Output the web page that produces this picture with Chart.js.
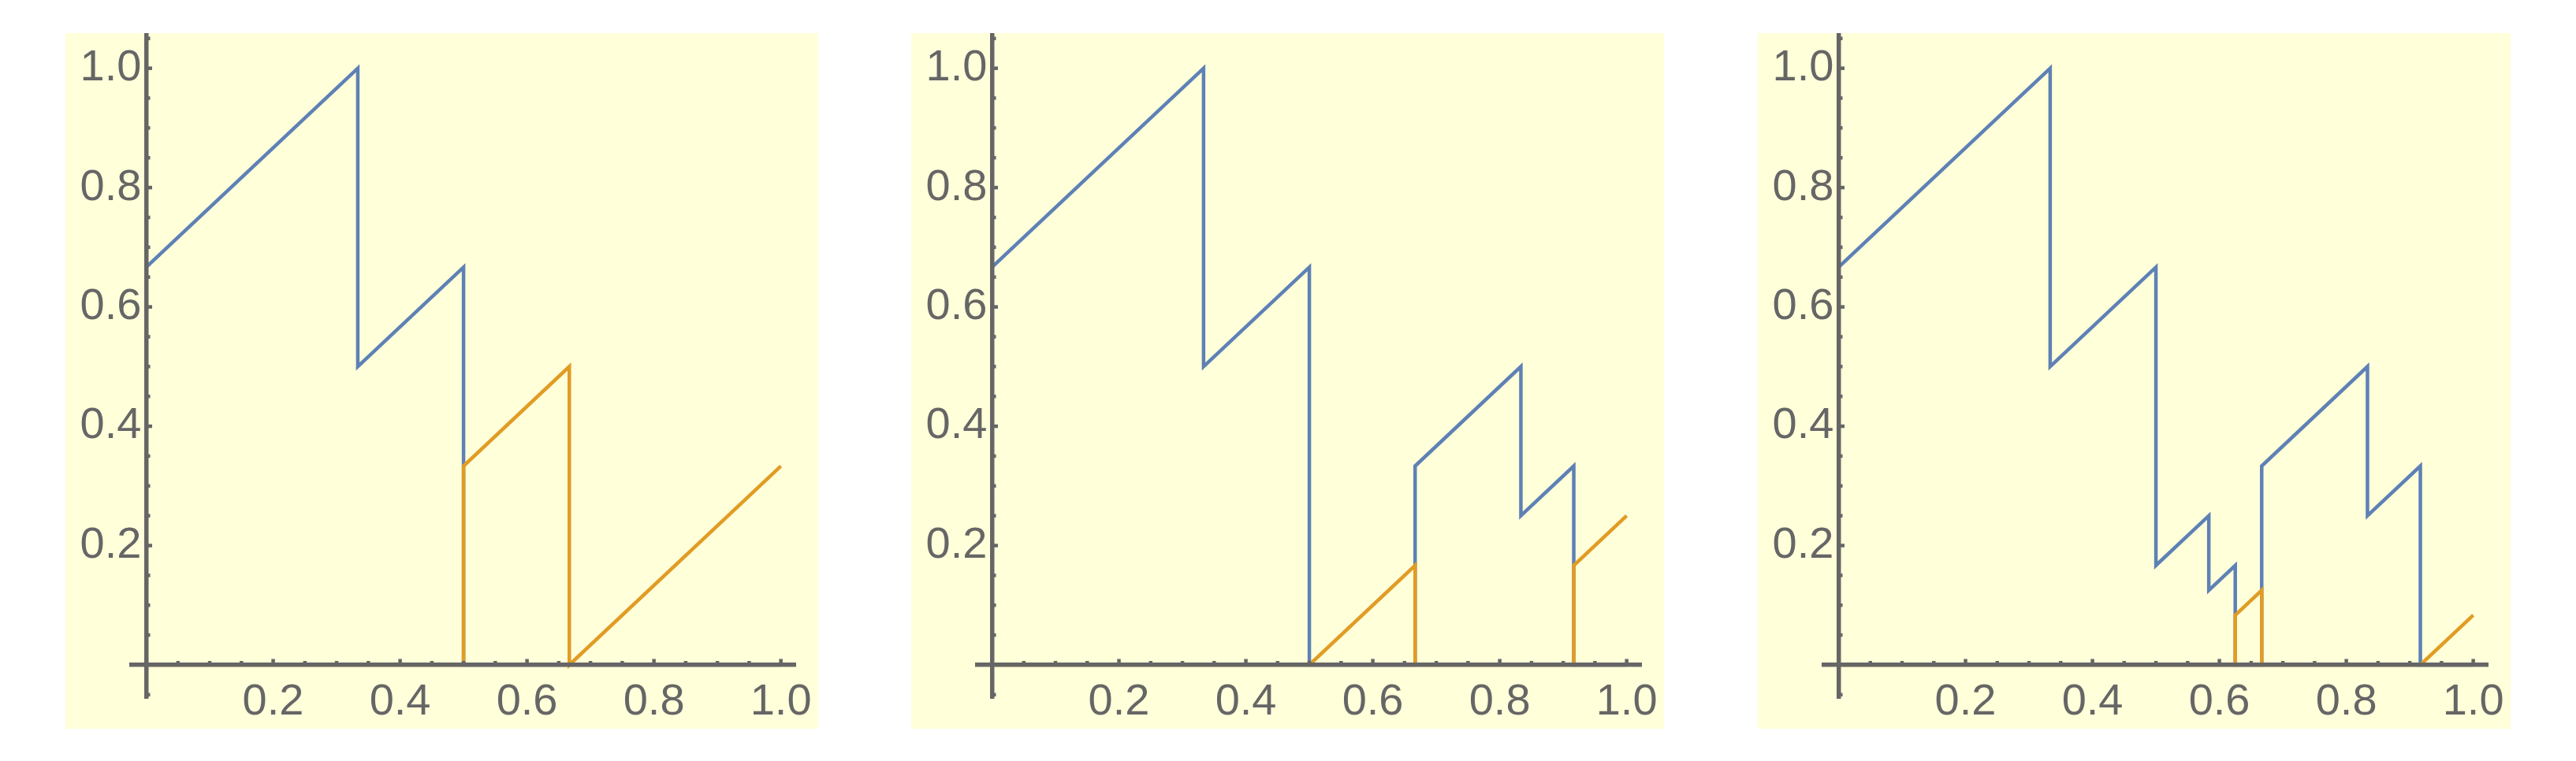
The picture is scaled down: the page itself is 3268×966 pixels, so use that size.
<!DOCTYPE html>
<html>
<head>
  <meta charset="UTF-8" />
  <title>Piecewise plots</title>
  <script src="https://cdn.jsdelivr.net/npm/chart.js"></script>
  <style>
    body {
      margin: 0;
      background: #fff;
      width: 3268px;
      height: 966px;
      position: relative;
      overflow: hidden;
    }
    .panel {
      position: absolute;
      top: 42px;
      width: 955px;
      height: 883px;
      background: #FFFFDA;
    }
    #p1 { left: 83px; }
    #p2 { left: 1156px; }
    #p3 { left: 2230px; }
  </style>
</head>
<body>

  <div class="panel" id="p1"><canvas id="c1"></canvas></div>
  <div class="panel" id="p2"><canvas id="c2"></canvas></div>
  <div class="panel" id="p3"><canvas id="c3"></canvas></div>

  <script>
    // labelled ticks on both axes
    const xTickValues = [0.2, 0.4, 0.6, 0.8, 1.0];
    const yTickValues = [0.2, 0.4, 0.6, 0.8, 1.0];

    // panel 1
    const blueX1 = [0, 1/3, 1/3, 1/2, 1/2, 1];
    const blueY1 = [2/3, 1, 1/2, 2/3, 0, 0];
    const orangeX1 = [0, 1/2, 1/2, 2/3, 2/3, 1];
    const orangeY1 = [0, 0, 1/3, 1/2, 0, 1/3];

    // panel 2
    const blueX2 = [0, 1/3, 1/3, 1/2, 1/2, 2/3, 2/3, 5/6, 5/6, 11/12, 11/12, 1];
    const blueY2 = [2/3, 1, 1/2, 2/3, 0, 0, 1/3, 1/2, 1/4, 1/3, 0, 0];
    const orangeX2 = [0, 1/2, 2/3, 2/3, 11/12, 11/12, 1];
    const orangeY2 = [0, 0, 1/6, 0, 0, 1/6, 1/4];

    // panel 3
    const blueX3 = [0, 1/3, 1/3, 1/2, 1/2, 7/12, 7/12, 5/8, 5/8, 2/3, 2/3, 5/6, 5/6, 11/12, 11/12, 1];
    const blueY3 = [2/3, 1, 1/2, 2/3, 1/6, 1/4, 1/8, 1/6, 0, 0, 1/3, 1/2, 1/4, 1/3, 0, 0];
    const orangeX3 = [0, 5/8, 5/8, 2/3, 2/3, 11/12, 1];
    const orangeY3 = [0, 0, 1/12, 1/8, 0, 0, 1/12];

    const BLUE = '#5E81B5';
    const ORANGE = '#E19C24';
    const AXIS = '#666666';
    const FONT = { family: '"Liberation Sans", Arial, sans-serif', size: 56 };
    const Y_MIN = -0.0555, Y_MAX = 1.055;

    const zip = (xs, ys) => xs.map((x, i) => ({ x: x, y: ys[i] }));

    // axes sit inside the plot, so they should not eat layout space
    const noSpace = axis => {
      if (axis.isHorizontal()) axis.height = 0; else axis.width = 0;
      axis.paddingLeft = axis.paddingRight = axis.paddingTop = axis.paddingBottom = 0;
    };

    // Mathematica-style inward ticks: major every 0.2, minor every 0.05
    const tickMarks = {
      id: 'tickMarks',
      afterDraw(chart) {
        const { ctx, scales: { x, y } } = chart;
        const x0 = x.getPixelForValue(0);
        const y0 = y.getPixelForValue(0);
        ctx.save();
        ctx.strokeStyle = AXIS;
        ctx.lineWidth = 4.5;
        ctx.lineCap = 'butt';
        for (let i = 1; i <= 20; i++) {
          const len = i % 4 === 0 ? 7.5 : 5;
          const px = x.getPixelForValue(i * 0.05);
          ctx.beginPath();
          ctx.moveTo(px, y0);
          ctx.lineTo(px, y0 - len);
          ctx.stroke();
        }
        for (let i = -1; i <= 21; i++) {
          if (i === 0) continue;
          const len = i % 4 === 0 ? 7.5 : 5;
          const py = y.getPixelForValue(i * 0.05);
          ctx.beginPath();
          ctx.moveTo(x0, py);
          ctx.lineTo(x0 + len, py);
          ctx.stroke();
        }
        ctx.restore();
      }
    };

    function makeChart(id, blue, orange) {
      const ctx = document.getElementById(id).getContext('2d');
      return new Chart(ctx, {
        type: 'scatter',
        data: {
          datasets: [
            { data: blue, borderColor: BLUE, borderWidth: 4.5, showLine: true, order: 1 },
            { data: orange, borderColor: ORANGE, borderWidth: 4.5, showLine: true, order: 0 }
          ]
        },
        options: {
          animation: false,
          responsive: true,
          maintainAspectRatio: false,
          layout: { padding: { left: 84, right: 29, top: 3, bottom: 39 } },
          elements: {
            point: { radius: 0, hoverRadius: 0 },
            line: { tension: 0, borderJoinStyle: 'miter', borderCapStyle: 'butt', fill: false }
          },
          plugins: {
            legend: { display: false },
            tooltip: { enabled: false }
          },
          scales: {
            x: {
              type: 'linear',
              min: -0.023,
              max: 1.0228,
              position: { y: 0 },
              grid: { display: false },
              border: { color: AXIS, width: 5.5, z: 1 },
              afterBuildTicks: axis => { axis.ticks = xTickValues.map(v => ({ value: v })); },
              afterFit: noSpace,
              ticks: {
                font: FONT,
                color: AXIS,
                padding: 5.5,
                z: 1,
                maxRotation: 0,
                autoSkip: false,
                callback: v => Number(v).toFixed(1)
              }
            },
            y: {
              type: 'linear',
              min: Y_MIN,
              max: Y_MAX,
              position: { x: 0 },
              grid: { display: false },
              border: { color: AXIS, width: 5.5, z: 1 },
              afterFit: noSpace,
              ticks: { display: false }
            },
            // labels only; mirrored so they are not clipped, right edge just left of the y axis
            yLabels: {
              axis: 'y',
              type: 'linear',
              min: Y_MIN,
              max: Y_MAX,
              position: 'left',
              grid: { display: false },
              border: { display: false },
              afterBuildTicks: axis => { axis.ticks = yTickValues.map(v => ({ value: v })); },
              afterFit: noSpace,
              ticks: {
                font: FONT,
                color: AXIS,
                mirror: true,
                crossAlign: 'far',
                padding: -65.5,
                z: 1,
                autoSkip: false,
                callback: v => Number(v).toFixed(1)
              }
            }
          }
        },
        plugins: [tickMarks]
      });
    }

    makeChart('c1', zip(blueX1, blueY1), zip(orangeX1, orangeY1));
    makeChart('c2', zip(blueX2, blueY2), zip(orangeX2, orangeY2));
    makeChart('c3', zip(blueX3, blueY3), zip(orangeX3, orangeY3));
  </script>

</body>
</html>
